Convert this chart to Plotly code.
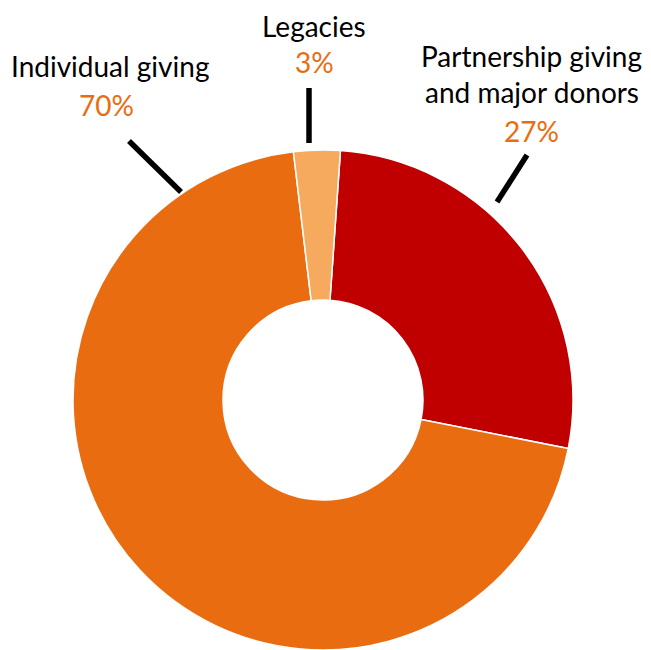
import plotly.graph_objects as go

# page body adds an 8px margin, so the figure is drawn 8px in from the window corner
OFF = 8
W, H = 651 - OFF, 650 - OFF

labels = ["Partnership giving and major donors", "Individual giving", "Legacies"]
values = [27, 70, 3]
colors = ["#C00000", "#E96C11", "#F6AA5E"]
pct_text = ["27%", "70%", "3%"]
label_lines = [["Partnership giving", "and major donors"], ["Individual giving"], ["Legacies"]]
BLACK, ORANGE = "#000000", "#E96C11"


def px(x, y):
    # window pixel -> paper coords
    return (x - OFF) / W, 1 - (y - OFF) / H


fig = go.Figure()
x0, y0 = px(73, 150)
x1, y1 = px(573, 650)
fig.add_trace(go.Pie(
    labels=labels,
    values=values,
    hole=0.4,
    sort=False,
    direction="clockwise",
    rotation=4,
    marker=dict(colors=colors, line=dict(color="white", width=1.5)),
    textinfo="none",
    hoverinfo="label+percent",
    domain=dict(x=[x0, x1], y=[y1, y0]),
))

font = "Lato"
size = 28
# centres of each text line (window pixels)
label_pos = [[(531, 56), (532, 92)], [(110, 66)], [(314, 26)]]
pct_pos = [(531, 131), (107, 105), (314, 62)]

annotations = []
for lines, poss in zip(label_lines, label_pos):
    for t, (x, y) in zip(lines, poss):
        ax, ay = px(x, y)
        annotations.append(dict(x=ax, y=ay, xref="paper", yref="paper", text=t, showarrow=False,
                                xanchor="center", yanchor="middle",
                                font=dict(family=font, size=size, color=BLACK)))
for t, (x, y) in zip(pct_text, pct_pos):
    ax, ay = px(x, y)
    annotations.append(dict(x=ax, y=ay, xref="paper", yref="paper", text=t, showarrow=False,
                            xanchor="center", yanchor="middle",
                            font=dict(family=font, size=size, color=ORANGE)))

# leader lines
leaders = [((527, 155), (497, 202)), ((129, 141), (181, 192)), ((309, 88), (309, 143))]
shapes = []
for (lx0, ly0), (lx1, ly1) in leaders:
    a0, b0 = px(lx0, ly0)
    a1, b1 = px(lx1, ly1)
    shapes.append(dict(type="line", xref="paper", yref="paper", x0=a0, y0=b0, x1=a1, y1=b1,
                       line=dict(color=BLACK, width=5.5)))

fig.update_layout(
    width=W, height=H,
    margin=dict(l=0, r=0, t=0, b=0),
    showlegend=False,
    paper_bgcolor="white",
    annotations=annotations,
    shapes=shapes,
)

fig.write_html("out.html")
